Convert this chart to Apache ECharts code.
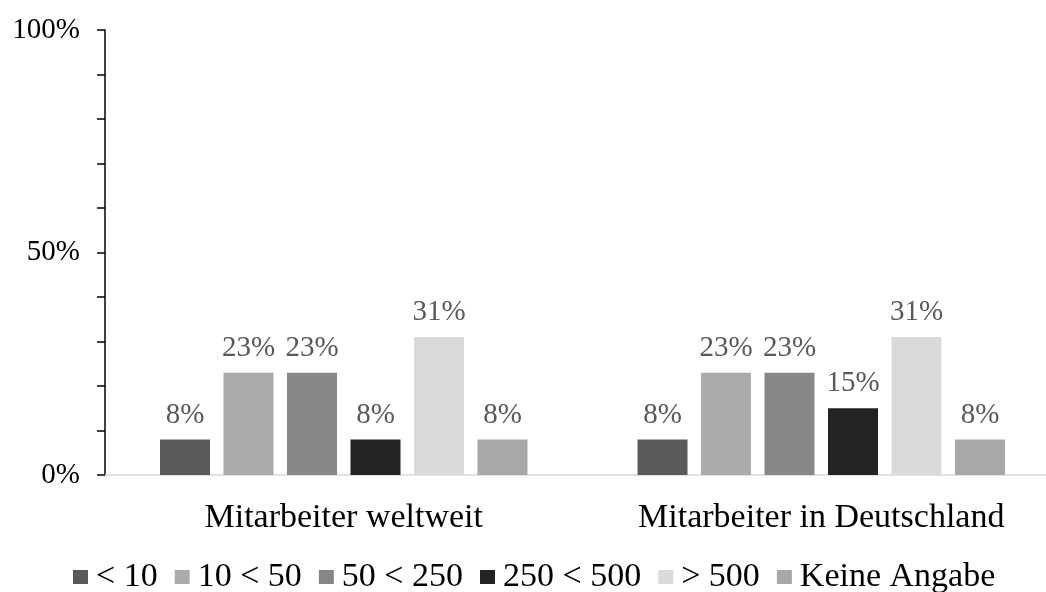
<!DOCTYPE html>
<html>
<head>
<meta charset="utf-8">
<script src="https://cdn.jsdelivr.net/npm/echarts@6/dist/echarts.min.js"></script>
<style>
  html, body { margin: 0; padding: 0; background: #ffffff; }
  #chart { width: 1046px; height: 592px; }
</style>
</head>
<body>
<div id="chart"></div>
<script>
// Company size groups (employees) per scope, values in percent
const categories = ['Mitarbeiter weltweit', 'Mitarbeiter in Deutschland'];
const sizeClasses = ['< 10', '10 < 50', '50 < 250', '250 < 500', '> 500', 'Keine Angabe'];
const weltweit = [8, 23, 23, 8, 31, 8];
const deutschland = [8, 23, 23, 15, 31, 8];
const yTicks = [0, 50, 100];

const colors = ['#5a5a5a', '#ababab', '#878787', '#232323', '#dadada', '#a8a8a8'];
const FONT = '"Liberation Serif", "Times New Roman", serif';

const series = sizeClasses.map((name, i) => ({
  name: name,
  type: 'bar',
  data: [weltweit[i], deutschland[i]],
  barWidth: 50,
  barGap: '27%',
  itemStyle: { color: colors[i] },
  label: {
    show: true,
    position: 'top',
    distance: 10,
    formatter: '{c}%',
    color: '#595959',
    fontFamily: FONT,
    fontSize: 29
  }
}));

const chart = echarts.init(document.getElementById('chart'), null, { renderer: 'canvas' });
chart.setOption({
  animation: false,
  backgroundColor: '#ffffff',
  color: colors,
  // the plot area runs past the right edge of the canvas
  grid: { left: 105, top: 30, width: 955, height: 445, outerBoundsMode: 'none' },
  legend: {
    data: sizeClasses,
    left: 73,
    top: 560,
    padding: 0,
    itemWidth: 15,
    itemHeight: 14,
    itemGap: 17,
    icon: 'rect',
    textStyle: { fontFamily: FONT, fontSize: 34, color: '#000000', padding: [0, 0, 0, 3] }
  },
  xAxis: {
    type: 'category',
    data: categories,
    axisLine: { lineStyle: { color: '#d9d9d9', width: 1.5 } },
    axisTick: { show: false },
    axisLabel: { fontFamily: FONT, fontSize: 34, color: '#000000', margin: 26 }
  },
  yAxis: {
    type: 'value',
    min: 0,
    max: 100,
    interval: 10,
    axisLine: { show: true, lineStyle: { color: '#000000', width: 1.5 } },
    axisTick: { show: true, length: 8, lineStyle: { color: '#000000', width: 1.5 } },
    splitLine: { show: false },
    axisLabel: {
      fontFamily: FONT,
      fontSize: 29,
      color: '#000000',
      margin: 25,
      formatter: v => (yTicks.indexOf(v) >= 0 ? v + '%' : '')
    }
  },
  series: series
});
</script>
</body>
</html>
